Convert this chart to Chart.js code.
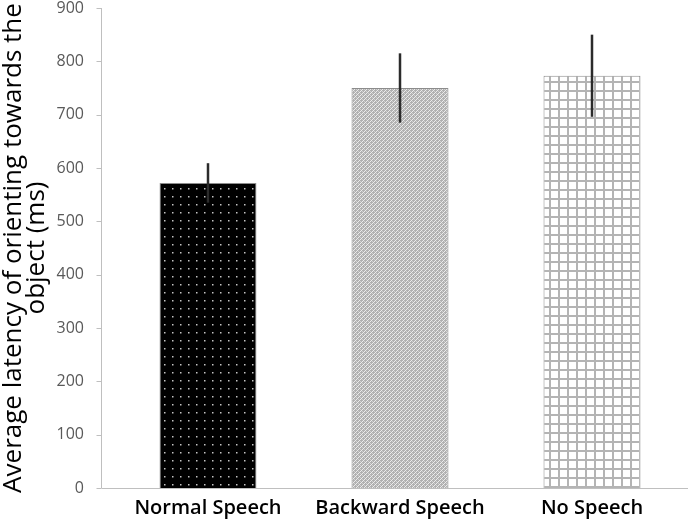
<!DOCTYPE html>
<html>
<head>
<meta charset="utf-8">
<script src="https://cdn.jsdelivr.net/npm/chart.js@4.4.0/dist/chart.umd.min.js"></script>
<style>
  html, body { margin: 0; padding: 0; background: #fff; }
  #wrap { width: 700px; height: 523px; }
</style>
</head>
<body>
<div id="wrap"><canvas id="chart" width="700" height="523"></canvas></div>
<script>
// dados
const categorias = ['Normal Speech', 'Backward Speech', 'No Speech'];
const latencias = [572, 750, 773];
const erros = [37, 65, 77];
const yTicks = [0, 100, 200, 300, 400, 500, 600, 700, 800, 900];

// padrões de preenchimento das barras
function padraoPontos() {
  const c = document.createElement('canvas');
  c.width = 8; c.height = 8;
  const g = c.getContext('2d');
  g.fillStyle = '#000';
  g.fillRect(0, 0, 8, 8);
  g.fillStyle = '#c4c4c4';
  g.fillRect(4, 4, 1.5, 1.5);
  return g.createPattern(c, 'repeat');
}

function padraoDiagonal() {
  const c = document.createElement('canvas');
  c.width = 4; c.height = 4;
  const g = c.getContext('2d');
  g.fillStyle = '#b0b0b0';
  g.fillRect(0, 0, 4, 4);
  g.fillStyle = '#ececec';
  g.fillRect(0, 3, 1, 1);
  g.fillRect(1, 2, 1, 1);
  g.fillRect(2, 1, 1, 1);
  g.fillRect(3, 0, 1, 1);
  g.fillStyle = '#d0d0d0';
  g.fillRect(0, 1, 1, 1);
  g.fillRect(2, 3, 1, 1);
  return g.createPattern(c, 'repeat');
}

function padraoGrade() {
  const c = document.createElement('canvas');
  c.width = 9; c.height = 9;
  const g = c.getContext('2d');
  g.fillStyle = '#fff';
  g.fillRect(0, 0, 9, 9);
  g.fillStyle = '#b4b4b4';
  g.fillRect(0, 0, 9, 2);
  g.fillRect(0, 0, 2, 9);
  return g.createPattern(c, 'repeat');
}

// eixo vertical desenhado um pouco à esquerda da área das barras (como no original)
const eixoY = {
  id: 'eixoY',
  afterDraw(chart) {
    const ctx = chart.ctx;
    const y = chart.scales.y;
    const area = chart.chartArea;
    const xEixo = area.left - 10.5;
    ctx.save();
    ctx.strokeStyle = '#bfbfbf';
    ctx.lineWidth = 1;
    ctx.beginPath();
    ctx.moveTo(xEixo, area.top);
    ctx.lineTo(xEixo, area.bottom);
    yTicks.forEach(v => {
      const py = Math.round(y.getPixelForValue(v)) + 0.5;
      ctx.moveTo(xEixo - 5, py);
      ctx.lineTo(xEixo, py);
    });
    const yBase = Math.round(y.getPixelForValue(0)) + 0.5;
    ctx.moveTo(xEixo, yBase);
    ctx.lineTo(area.right, yBase);
    ctx.stroke();
    ctx.restore();
  }
};

// barras de erro desenhadas depois das barras
const barrasErro = {
  id: 'barrasErro',
  afterDatasetsDraw(chart) {
    const ctx = chart.ctx;
    const y = chart.scales.y;
    const meta = chart.getDatasetMeta(0);
    ctx.save();
    ctx.strokeStyle = '#2b2b2b';
    ctx.lineWidth = 2.5;
    meta.data.forEach((bar, i) => {
      const v = latencias[i];
      ctx.beginPath();
      ctx.moveTo(bar.x, y.getPixelForValue(v - erros[i]));
      ctx.lineTo(bar.x, y.getPixelForValue(v + erros[i]));
      ctx.stroke();
    });
    ctx.restore();
  }
};

new Chart(document.getElementById('chart'), {
  type: 'bar',
  data: {
    labels: categorias,
    datasets: [{
      data: latencias,
      backgroundColor: [padraoPontos(), padraoDiagonal(), padraoGrade()],
      borderColor: '#8c8c8c',
      borderWidth: 1,
      barPercentage: 1,
      categoryPercentage: 0.505
    }]
  },
  options: {
    responsive: false,
    animation: false,
    layout: { padding: { top: 0, right: 12, left: 0, bottom: 0 } },
    plugins: {
      legend: { display: false },
      tooltip: { enabled: false }
    },
    scales: {
      x: {
        grid: { display: false },
        border: { display: false },
        afterFit(axis) {
          axis.height = 35;
          axis.paddingLeft = 0;
          axis.paddingRight = 0;
        },
        ticks: {
          color: '#000',
          font: { family: 'Open Sans', size: 20, weight: '600' },
          padding: 0,
          maxRotation: 0
        }
      },
      y: {
        min: 0,
        max: 900,
        afterBuildTicks(axis) {
          axis.ticks = yTicks.map(v => ({ value: v }));
        },
        afterFit(axis) {
          axis.width = 112;
          axis.paddingTop = 8;
          axis.paddingBottom = 0;
        },
        grid: { display: false },
        border: { display: false },
        ticks: {
          color: '#595959',
          font: { family: 'Open Sans', size: 16 },
          padding: 20
        },
        title: {
          display: true,
          text: ['Average latency of orienting towards the', 'object (ms)'],
          color: '#000',
          font: { family: 'Open Sans', size: 26, lineHeight: 0.88 },
          padding: { top: 2, bottom: 0 }
        }
      }
    }
  },
  plugins: [barrasErro, eixoY]
});
</script>
</body>
</html>
